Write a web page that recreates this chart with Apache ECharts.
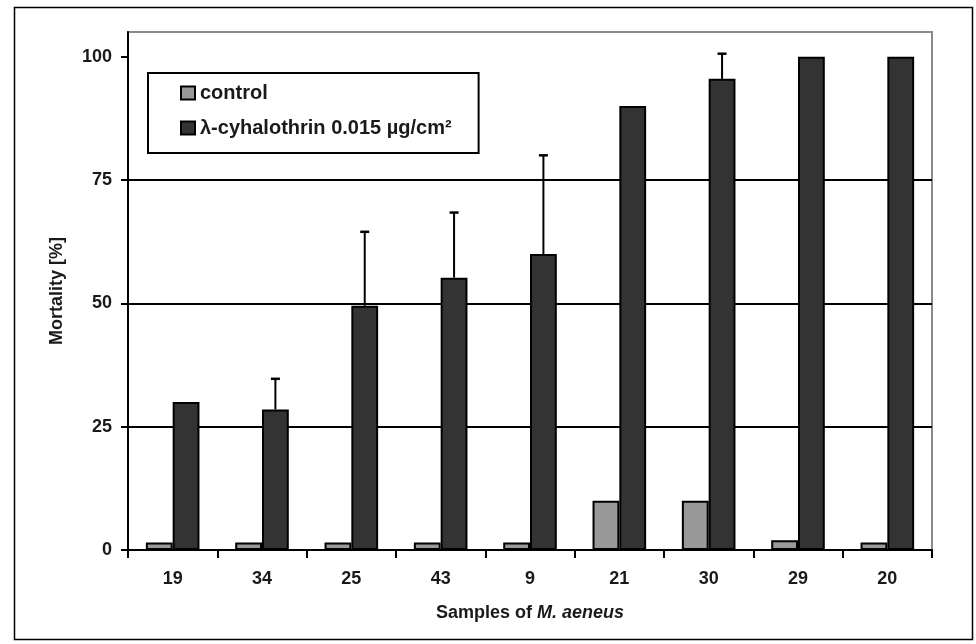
<!DOCTYPE html>
<html>
<head>
<meta charset="utf-8">
<script src="https://cdn.jsdelivr.net/npm/echarts@6/dist/echarts.min.js"></script>
<style>html,body{margin:0;padding:0;background:#fff}#c{width:976px;height:644px}</style>
</head>
<body>
<div id="c"></div>
<script>
var categories = ['19','34','25','43','9','21','30','29','20'];
var controlValues = [1.5, 1.5, 1.5, 1.5, 1.5, 10, 10, 2, 1.5];
var treatedValues = [30, 28.5, 49.5, 55.2, 60, 90, 95.5, 100, 100];
var treatedErrors = [0, 6.2, 15, 13.2, 20, 0, 5.1, 0, 0];
var yTicks = [0, 25, 50, 75, 100];

var FONT = 'Liberation Sans, Arial, sans-serif';
var chart = echarts.init(document.getElementById('c'), null, {renderer: 'canvas'});

var errData = categories.map(function (c, i) { return [i, treatedValues[i], treatedErrors[i]]; });

chart.setOption({
  animation: false,
  backgroundColor: '#fff',
  textStyle: {fontFamily: FONT},
  graphic: [{
    type: 'rect', left: 12, top: 5, silent: true,
    shape: {width: 958, height: 632},
    style: {fill: 'none', stroke: '#000', lineWidth: 1.5}
  }],
  grid: {left: 128, right: 44, top: 32, bottom: 94, show: true, borderColor: '#8a8a8a', borderWidth: 2, backgroundColor: 'transparent'},
  legend: {
    left: 148, top: 73, orient: 'vertical',
    padding: [10, 27, 15, 32],
    borderColor: '#000', borderWidth: 2,
    itemWidth: 14, itemHeight: 13, itemGap: 15,
    icon: 'rect',
    itemStyle: {borderColor: '#000', borderWidth: 2},
    textStyle: {fontFamily: FONT, fontWeight: 'bold', fontSize: 20, color: '#1a1a1a'},
    data: ['control', 'λ-cyhalothrin 0.015 µg/cm²']
  },
  xAxis: {
    type: 'category', data: categories,
    axisLine: {lineStyle: {color: '#000', width: 2}},
    axisTick: {show: true, length: 8, lineStyle: {color: '#000', width: 2}},
    axisLabel: {margin: 20, fontFamily: FONT, fontWeight: 'bold', fontSize: 18, color: '#1a1a1a'},
    name: 'Samples of {i|M. aeneus}', nameLocation: 'middle', nameGap: 54,
    nameTextStyle: {fontFamily: FONT, fontWeight: 'bold', fontSize: 18, color: '#1a1a1a',
      rich: {i: {fontFamily: FONT, fontWeight: 'bold', fontStyle: 'italic', fontSize: 18, color: '#1a1a1a'}}}
  },
  yAxis: {
    type: 'value', min: 0, max: 105, interval: 25,
    axisLine: {show: true, lineStyle: {color: '#000', width: 2}},
    axisTick: {show: true, length: 7, customValues: yTicks, lineStyle: {color: '#000', width: 2}},
    axisLabel: {margin: 16, customValues: yTicks, fontFamily: FONT, fontWeight: 'bold', fontSize: 18, color: '#1a1a1a'},
    splitLine: {show: true, showMaxLine: false, lineStyle: {color: '#000', width: 2}},
    name: 'Mortality [%]', nameLocation: 'middle', nameGap: 62, nameRotate: 90,
    nameTextStyle: {fontFamily: FONT, fontWeight: 'bold', fontSize: 18, color: '#1a1a1a'}
  },
  series: [
    {
      name: 'control', type: 'bar', data: controlValues,
      barGap: '0%', barCategoryGap: '40%',
      itemStyle: {color: '#999999', borderColor: '#000', borderWidth: 2}
    },
    {
      name: 'λ-cyhalothrin 0.015 µg/cm²', type: 'bar', data: treatedValues,
      barGap: '0%', barCategoryGap: '40%',
      itemStyle: {color: '#333333', borderColor: '#000', borderWidth: 2}
    },
    {
      type: 'custom', data: errData, z: 5, silent: true,
      encode: {x: 0, y: 1},
      renderItem: function (params, api) {
        var idx = api.value(0), v = api.value(1), e = api.value(2);
        if (!e) return null;
        var bw = api.size([1, 0])[0];
        var base = api.coord([idx, v]);
        var top = api.coord([idx, v + e]);
        var x = base[0] + bw * 0.15;
        var cap = 4.5;
        return {type: 'group', children: [
          {type: 'line', shape: {x1: x, y1: base[1], x2: x, y2: top[1]}, style: {stroke: '#000', lineWidth: 2}},
          {type: 'line', shape: {x1: x - cap, y1: top[1], x2: x + cap, y2: top[1]}, style: {stroke: '#000', lineWidth: 2.5}}
        ]};
      }
    }
  ]
});
</script>
</body>
</html>
